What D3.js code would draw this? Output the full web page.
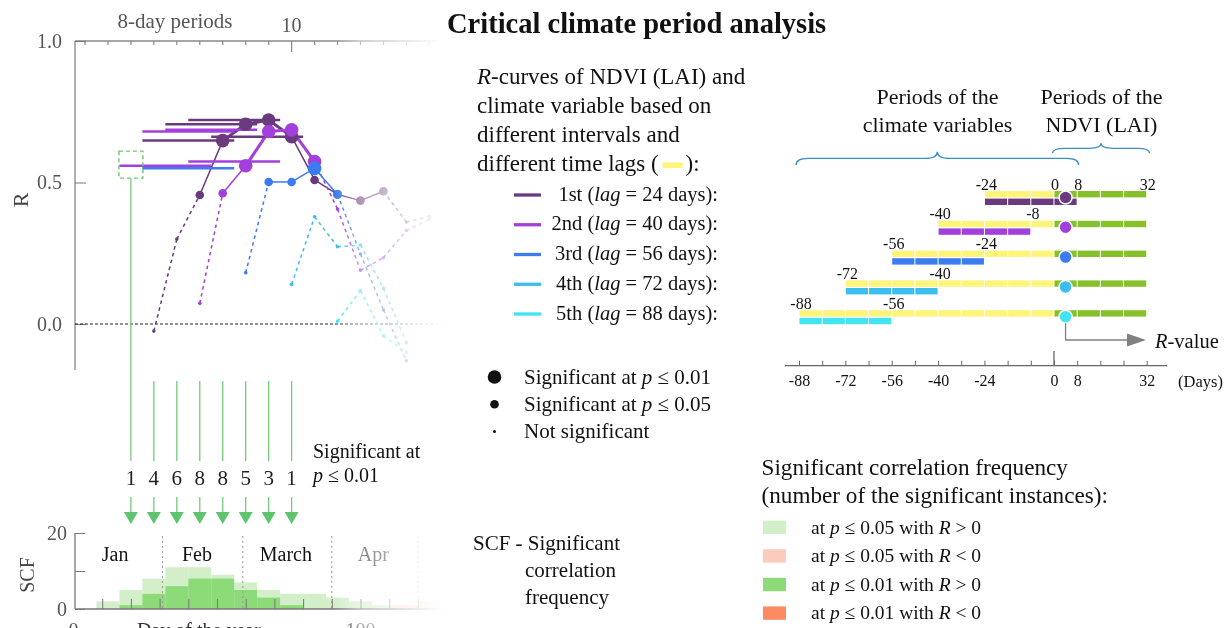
<!DOCTYPE html>
<html>
<head>
<meta charset="utf-8">
<script src="https://cdn.jsdelivr.net/npm/d3@7"></script>
<style>
  body { margin: 0; background: #fff; }
  svg text { font-family: "Liberation Serif", "Times New Roman", serif; }
</style>
</head>
<body>
<script>
// R-curves, one per time lag: [8-day period, R, significance (2: p<=0.01, 1: p<=0.05, 0: n.s.)]
var curve1st = [[4,-0.025,0],[5,0.30,0],[6,0.456,1],[7,0.648,2],[8,0.706,2],[9,0.721,2],[10,0.662,2],[11,0.509,1],[12,0.458,1],[13,0.436,1],[14,0.469,1],[15,0.36,0],[16,0.38,0]];
var curve2nd = [[6,0.073,0],[7,0.462,1],[8,0.559,2],[9,0.68,2],[10,0.686,2],[11,0.574,2],[12,0.406,0],[13,0.19,0],[14,0.234,0],[15,0.33,0],[16,0.37,0]];
var curve3rd = [[8,0.181,0],[9,0.502,1],[10,0.502,1],[11,0.55,2],[12,0.458,1],[13,0.247,0],[14,0.05,0],[15,-0.13,0]];
var curve4th = [[10,0.14,0],[11,0.379,0],[12,0.273,0],[13,0.279,0],[14,0.126,0],[15,-0.066,0]];
var curve5th = [[12,0.01,0],[13,0.118,0],[14,-0.042,0],[15,-0.1,0]];
var curves = [curve1st, curve2nd, curve3rd, curve4th, curve5th];
var curveNames = ['1st', '2nd', '3rd', '4th', '5th'];
var lagDays = [24, 40, 56, 72, 88];
var curveColors = ['#6b3a7e', '#a33fdc', '#3b7cf0', '#3cbdef', '#40e4f2'];

var periodTicks = d3.range(1, 17);
var rTicks = [0, 0.5, 1];
var boxPeriod = 3, boxR = 0.563;

// SCF histogram, 8-day bins by first day of year
var binStarts = d3.range(8, 128, 8);
var scfPos05 = [2, 5, 8, 11, 11, 9, 7, 5, 4, 4, 3, 2, 1, 0, 0];
var scfNeg05 = [0, 0, 0, 0, 0, 0, 0, 0, 0, 0, 0, 0, 0, 1, 2];
var scfPos01 = [0, 1, 4, 6, 8, 8, 5, 3, 1, 0, 0, 0, 0, 0, 0];
var scfTicks = [0, 10, 20];
var months = ['Jan', 'Feb', 'March', 'Apr'];
var monthStartDays = [31, 59, 90, 120];
var monthLabelDays = [14.5, 43, 74, 104.5];
var dayTicks = d3.range(10, 141, 10);
var dayLabels = [0, 100];

// window diagram (days relative to NDVI period start)
var climateStart = [-24, -40, -56, -72, -88];
var windowEnd = [8, -8, -24, -40, -56];
var ndviEnd = 32;
var diagramTicks = d3.range(-88, 33, 8);
var diagramLabels = [-88, -72, -56, -40, -24, 0, 8, 32];

// legend texts
var sigLabels = ['0.01', '0.05'];
var scfLegendP = ['0.05', '0.05', '0.01', '0.01'];
var scfLegendSign = ['>', '<', '>', '<'];
var scfColors = ['#d2efc9', '#fdcbbd', '#8ddb78', '#fc8b62'];

var W = 1231, H = 628;
var svg = d3.select('body').append('svg').attr('width', W).attr('height', H);

// right-hand fade of the left panel
var defs = svg.append('defs');
var grad = defs.append('linearGradient').attr('id', 'fade')
  .attr('gradientUnits', 'userSpaceOnUse')
  .attr('x1', 335).attr('x2', 445).attr('y1', 0).attr('y2', 0);
grad.append('stop').attr('offset', 0).attr('stop-color', '#fff');
grad.append('stop').attr('offset', 0.22).attr('stop-color', '#8a8a8a');
grad.append('stop').attr('offset', 1).attr('stop-color', '#000');
defs.append('mask').attr('id', 'fadeMask')
  .attr('maskUnits', 'userSpaceOnUse').attr('x', 0).attr('y', 0).attr('width', 460).attr('height', H)
  .append('rect').attr('width', 460).attr('height', H).attr('fill', 'url(#fade)');

var left = svg.append('g').attr('mask', 'url(#fadeMask)');

// ---------- R-curve chart ----------
var xDay = d3.scaleLinear().domain([0, 100]).range([73.5, 360.5]);
var xPeriod = p => xDay(p * 8 - 4);
var yR = d3.scaleLinear().domain([0, 1]).range([324, 41]);

left.append('line').attr('x1', 75).attr('x2', 450).attr('y1', 41).attr('y2', 41)
  .attr('stroke', '#888').attr('stroke-width', 1.3);
left.selectAll('.ptick').data(periodTicks).enter().append('line')
  .attr('x1', d => xPeriod(d)).attr('x2', d => xPeriod(d))
  .attr('y1', 41).attr('y2', d => d == 10 ? 52 : 45)
  .attr('stroke', '#888').attr('stroke-width', 1.2);

left.append('line').attr('x1', 75).attr('x2', 75).attr('y1', 41).attr('y2', 370)
  .attr('stroke', '#888').attr('stroke-width', 1.3);
left.append('g').attr('transform', 'translate(75,0)')
  .call(d3.axisLeft(yR).tickValues(rTicks).tickFormat(d3.format('.1f')).tickSize(-11).tickPadding(13))
  .call(g => g.select('.domain').remove())
  .attr('font-family', null).attr('font-size', 20).attr('color', '#777')
  .call(g => g.selectAll('text').attr('fill', '#555'));

left.append('line').attr('x1', 75).attr('x2', 450).attr('y1', yR(0)).attr('y2', yR(0))
  .attr('stroke', '#222').attr('stroke-width', 1).attr('stroke-dasharray', '3,2');

svg.append('text').attr('x', 175).attr('y', 28).attr('text-anchor', 'middle')
  .attr('font-size', 21).attr('fill', '#555').text('8-day periods');
svg.append('text').attr('x', xPeriod(10)).attr('y', 32).attr('text-anchor', 'middle')
  .attr('font-size', 20).attr('fill', '#555').text('10');
svg.append('text').attr('transform', 'translate(28,200) rotate(-90)').attr('text-anchor', 'middle')
  .attr('font-size', 22).attr('fill', '#444').text('R');

// curve segments
curves.forEach(function(c, i) {
  left.append('g').selectAll('line').data(d3.pairs(c)).enter().append('line')
    .attr('x1', d => xPeriod(d[0][0])).attr('y1', d => yR(d[0][1]))
    .attr('x2', d => xPeriod(d[1][0])).attr('y2', d => yR(d[1][1]))
    .attr('stroke', curveColors[i])
    .attr('stroke-width', d => (d[0][2] == 2 && d[1][2] == 2) ? 3 : 1.5)
    .attr('stroke-dasharray', d => Math.min(d[0][2], d[1][2]) == 0 ? '3.5,3.5' : null);
});

// climate windows behind the p<=0.01 points
curves.forEach(function(c, i) {
  var lagP = lagDays[i] / 8;
  left.append('g').selectAll('line').data(c.filter(d => d[2] == 2)).enter().append('line')
    .attr('x1', d => xPeriod(d[0] - lagP - 0.5)).attr('x2', d => xPeriod(d[0] - lagP + 3.5))
    .attr('y1', d => yR(d[1])).attr('y2', d => yR(d[1]))
    .attr('stroke', curveColors[i]).attr('stroke-width', 2.5);
});

curves.forEach(function(c, i) {
  left.append('g').selectAll('circle').data(c).enter().append('circle')
    .attr('cx', d => xPeriod(d[0])).attr('cy', d => yR(d[1]))
    .attr('r', d => [1.8, 4.3, 6.8][d[2]])
    .attr('fill', curveColors[i]);
});

// box marking the critical period
var boxX = xPeriod(boxPeriod);
left.append('rect').attr('x', boxX - 12).attr('y', yR(boxR) - 13.5).attr('width', 24).attr('height', 27)
  .attr('fill', 'none').attr('stroke', '#6cc872').attr('stroke-width', 1.4).attr('stroke-dasharray', '4,3');

// ---------- arrows with counts ----------
var arrowData = binStarts.map((b, i) => ({ day: b + 4, n: scfPos01[i] })).filter(d => d.n > 0);
var arrows = svg.append('g');
arrows.selectAll('.top').data(arrowData).enter().append('line')
  .attr('x1', d => xDay(d.day)).attr('x2', d => xDay(d.day))
  .attr('y1', (d, i) => i == 0 ? yR(boxR) + 13.5 : 381).attr('y2', 461)
  .attr('stroke', '#74ca7c').attr('stroke-width', 1.3);
arrows.selectAll('.bot').data(arrowData).enter().append('line')
  .attr('x1', d => xDay(d.day)).attr('x2', d => xDay(d.day))
  .attr('y1', 497).attr('y2', 513)
  .attr('stroke', '#74ca7c').attr('stroke-width', 1.3);
arrows.selectAll('path').data(arrowData).enter().append('path')
  .attr('d', d => { var x = xDay(d.day); return `M${x - 7},512 L${x + 7},512 L${x},524 Z`; })
  .attr('fill', '#5ec46e');
arrows.selectAll('text').data(arrowData).enter().append('text')
  .attr('x', d => xDay(d.day)).attr('y', 485).attr('text-anchor', 'middle')
  .attr('font-size', 21).attr('fill', '#222').text(d => d.n);

var sigNote = svg.append('text').attr('font-size', 20).attr('fill', '#111');
sigNote.append('tspan').attr('x', 313).attr('y', 458).text('Significant at');
var t2 = sigNote.append('tspan').attr('x', 313).attr('y', 482);
t2.append('tspan').attr('font-style', 'italic').text('p');
t2.append('tspan').text(' \u2264 0.01');

// ---------- SCF histogram ----------
var yScf = d3.scaleLinear().domain([0, 20]).range([609, 533]);
function bars(values, color) {
  left.append('g').selectAll('rect').data(binStarts.map((b, i) => [b, values[i]]).filter(d => d[1] > 0))
    .enter().append('rect')
    .attr('x', d => xDay(d[0])).attr('width', d => xDay(d[0] + 8) - xDay(d[0]))
    .attr('y', d => yScf(d[1])).attr('height', d => yScf(0) - yScf(d[1]))
    .attr('fill', color);
}
bars(scfPos05, '#d2efc9');
bars(scfNeg05, '#fdd3c6');
bars(scfPos01, '#8ddb78');

left.selectAll('.mdiv').data(monthStartDays).enter().append('line')
  .attr('x1', d => xDay(d)).attr('x2', d => xDay(d)).attr('y1', 536).attr('y2', 609)
  .attr('stroke', '#999').attr('stroke-width', 1).attr('stroke-dasharray', '2,3');
left.selectAll('.mlab').data(months).enter().append('text')
  .attr('x', (d, i) => xDay(monthLabelDays[i]))
  .attr('y', 561).attr('text-anchor', 'middle').attr('font-size', 20)
  .attr('fill', '#111').text(d => d);

left.append('line').attr('x1', 75).attr('x2', 450).attr('y1', 609).attr('y2', 609)
  .attr('stroke', '#777').attr('stroke-width', 1.3);
left.append('g').attr('transform', 'translate(0,609)')
  .call(d3.axisBottom(xDay).tickValues(dayTicks).tickFormat('').tickSize(-10))
  .call(g => g.select('.domain').remove())
  .attr('color', '#777');
left.selectAll('.dlab').data(dayLabels).enter().append('text')
  .attr('x', d => xDay(d)).attr('y', 637).attr('text-anchor', 'middle')
  .attr('font-size', 20).attr('fill', '#555').text(d => d);
left.append('text').attr('x', 137).attr('y', 637).attr('font-size', 20).attr('fill', '#333')
  .text('Day of the year');

left.append('line').attr('x1', 75).attr('x2', 75).attr('y1', 533).attr('y2', 609)
  .attr('stroke', '#777').attr('stroke-width', 1.3);
left.append('g').attr('transform', 'translate(75,0)')
  .call(d3.axisLeft(yScf).tickValues(scfTicks).tickFormat(d => d == 10 ? '' : d).tickSize(-10).tickPadding(8))
  .call(g => g.select('.domain').remove())
  .attr('font-family', null).attr('font-size', 20).attr('color', '#777')
  .call(g => g.selectAll('text').attr('fill', '#555'));
svg.append('text').attr('transform', 'translate(34,575) rotate(-90)').attr('text-anchor', 'middle')
  .attr('font-size', 20).attr('fill', '#444').text('SCF');

// ---------- title and middle legend ----------
svg.append('text').attr('x', 447).attr('y', 33).attr('font-size', 28.5).attr('font-weight', 'bold')
  .attr('fill', '#111').text('Critical climate period analysis');

var intro = svg.append('g').attr('font-size', 23).attr('fill', '#111');
var l1 = intro.append('text').attr('x', 477).attr('y', 84);
l1.append('tspan').attr('font-style', 'italic').text('R');
l1.append('tspan').text('-curves of NDVI (LAI) and');
intro.append('text').attr('x', 477).attr('y', 113).text('climate variable based on');
intro.append('text').attr('x', 477).attr('y', 142).text('different intervals and');
var l4 = intro.append('text').attr('x', 477).attr('y', 171).text('different time lags (');
var l4w = l4.node().getComputedTextLength();
intro.append('rect').attr('x', 477 + l4w + 4).attr('y', 162.5).attr('width', 20).attr('height', 5.5)
  .attr('fill', '#fdf47a');
intro.append('text').attr('x', 477 + l4w + 27).attr('y', 171).text('):');

var lagLegend = svg.append('g');
curveNames.forEach(function(name, i) {
  var y = 195 + i * 29.75;
  lagLegend.append('line').attr('x1', 514).attr('x2', 541).attr('y1', y).attr('y2', y)
    .attr('stroke', curveColors[i]).attr('stroke-width', 3.3);
  var t = lagLegend.append('text').attr('x', 718).attr('y', y + 5.5).attr('text-anchor', 'end')
    .attr('font-size', 20.5).attr('fill', '#111');
  t.append('tspan').text(name + ' (');
  t.append('tspan').attr('font-style', 'italic').text('lag');
  t.append('tspan').text(' = ' + lagDays[i] + ' days):');
});

var sizeLegend = svg.append('g').attr('font-size', 21).attr('fill', '#111');
[6.8, 4.3, 1.5].forEach(function(r, i) {
  var y = 377 + i * 27.3;
  sizeLegend.append('circle').attr('cx', 494.5).attr('cy', y).attr('r', r).attr('fill', '#111');
  var t = sizeLegend.append('text').attr('x', 524).attr('y', y + 6.5);
  if (i < 2) {
    t.append('tspan').text('Significant at ');
    t.append('tspan').attr('font-style', 'italic').text('p');
    t.append('tspan').text(' \u2264 ' + sigLabels[i]);
  } else {
    t.text('Not significant');
  }
});

var scfNote = svg.append('g').attr('font-size', 21).attr('fill', '#111');
scfNote.append('text').attr('x', 473).attr('y', 550).text('SCF - Significant');
scfNote.append('text').attr('x', 525).attr('y', 577).text('correlation');
scfNote.append('text').attr('x', 525).attr('y', 603.5).text('frequency');

// ---------- window diagram ----------
var xLag = d3.scaleLinear().domain([-88, 32]).range([799, 1146.7]);
var rowTop = i => 191 + i * 29.8;
var diag = svg.append('g');

function cells(g, from, to, y, h, color) {
  g.selectAll(null).data(d3.range(from, to, 8)).enter().append('rect')
    .attr('x', d => xLag(d) + 0.5).attr('width', d => xLag(d + 8) - xLag(d) - 1)
    .attr('y', y).attr('height', h).attr('fill', color);
}

climateStart.forEach(function(s, i) {
  var y = rowTop(i);
  cells(diag, s, 0, y, 6.4, '#fdf47a');
  cells(diag, 0, ndviEnd, y, 6.4, '#86c02a');
  cells(diag, s, windowEnd[i], y + 7.6, 6.4, curveColors[i]);
  diag.append('circle').attr('cx', xLag(4)).attr('cy', y + 6.5).attr('r', 6.5)
    .attr('fill', curveColors[i]).attr('stroke', '#fff').attr('stroke-width', 1.5);
  var marks = i == 0 ? [s, 0, windowEnd[i], ndviEnd] : [s, windowEnd[i]];
  diag.selectAll(null).data(marks).enter().append('text')
    .attr('x', d => xLag(d) + (d < 0 ? 2 : 1)).attr('y', y - 1.5).attr('text-anchor', 'middle')
    .attr('font-size', 16).attr('fill', '#111').text(d => d);
});

// R-value arrow
var rv = rowTop(4) + 13;
diag.append('path').attr('d', `M${xLag(4)},${rv} L${xLag(4)},340 L1128,340`)
  .attr('fill', 'none').attr('stroke', '#808080').attr('stroke-width', 1.3);
diag.append('path').attr('d', 'M1127,333.5 L1146,340 L1127,346.5 Z').attr('fill', '#808080');
var rvText = diag.append('text').attr('x', 1155).attr('y', 347.5).attr('font-size', 20.5).attr('fill', '#111');
rvText.append('tspan').attr('font-style', 'italic').text('R');
rvText.append('tspan').text('-value');

// day axis
diag.append('line').attr('x1', 785).attr('x2', 1167).attr('y1', 365.7).attr('y2', 365.7)
  .attr('stroke', '#666').attr('stroke-width', 1.3);
diag.append('line').attr('x1', xLag(0)).attr('x2', xLag(0)).attr('y1', 351).attr('y2', 365.7)
  .attr('stroke', '#666').attr('stroke-width', 1.3);
diag.append('g').attr('transform', 'translate(0,365.7)')
  .call(d3.axisBottom(xLag).tickValues(diagramTicks).tickSize(-5).tickPadding(9)
    .tickFormat(d => diagramLabels.indexOf(d) >= 0 ? d : ''))
  .call(g => g.select('.domain').remove())
  .attr('font-family', null).attr('font-size', 16).attr('color', '#666')
  .call(g => g.selectAll('text').attr('fill', '#111'));
diag.append('text').attr('x', 1178).attr('y', 386.5).attr('font-size', 16.5).attr('fill', '#111').text('(Days)');

// braces
function brace(x1, x2, yEnd, yPeak) {
  var xm = (x1 + x2) / 2, yMid = (yEnd + yPeak) / 2, r = 12;
  return `M${x1},${yEnd} Q${x1},${yMid} ${x1 + r},${yMid} L${xm - r},${yMid} Q${xm},${yMid} ${xm},${yPeak}` +
    ` Q${xm},${yMid} ${xm + r},${yMid} L${x2 - r},${yMid} Q${x2},${yMid} ${x2},${yEnd}`;
}
diag.append('path').attr('d', brace(xLag(-89), xLag(8.5), 165, 151.7))
  .attr('fill', 'none').attr('stroke', '#3b8ec4').attr('stroke-width', 1.3);
diag.append('path').attr('d', brace(xLag(-0.5), xLag(33), 153.3, 143.3))
  .attr('fill', 'none').attr('stroke', '#3b8ec4').attr('stroke-width', 1.3);

var braceText = diag.append('g').attr('font-size', 22).attr('fill', '#111').attr('text-anchor', 'middle');
braceText.append('text').attr('x', 937.5).attr('y', 104).text('Periods of the');
braceText.append('text').attr('x', 937.5).attr('y', 131.5).text('climate variables');
braceText.append('text').attr('x', 1101.5).attr('y', 104).text('Periods of the');
braceText.append('text').attr('x', 1101.5).attr('y', 131.5).text('NDVI (LAI)');

// ---------- SCF legend ----------
var scfLeg = svg.append('g').attr('fill', '#111');
scfLeg.append('text').attr('x', 761.5).attr('y', 475).attr('font-size', 23.2).text('Significant correlation frequency');
scfLeg.append('text').attr('x', 761.5).attr('y', 503).attr('font-size', 23.2).text('(number of the significant instances):');
scfColors.forEach(function(c, i) {
  var y = 527.3 + i * 28.6;
  scfLeg.append('rect').attr('x', 763).attr('y', y - 6.7).attr('width', 23).attr('height', 13.4).attr('fill', c);
  var t = scfLeg.append('text').attr('x', 811).attr('y', y + 6.3).attr('font-size', 19.5);
  t.append('tspan').text('at ');
  t.append('tspan').attr('font-style', 'italic').text('p');
  t.append('tspan').text(' \u2264 ' + scfLegendP[i] + ' with ');
  t.append('tspan').attr('font-style', 'italic').text('R');
  t.append('tspan').text(' ' + scfLegendSign[i] + ' 0');
});
</script>
</body>
</html>
